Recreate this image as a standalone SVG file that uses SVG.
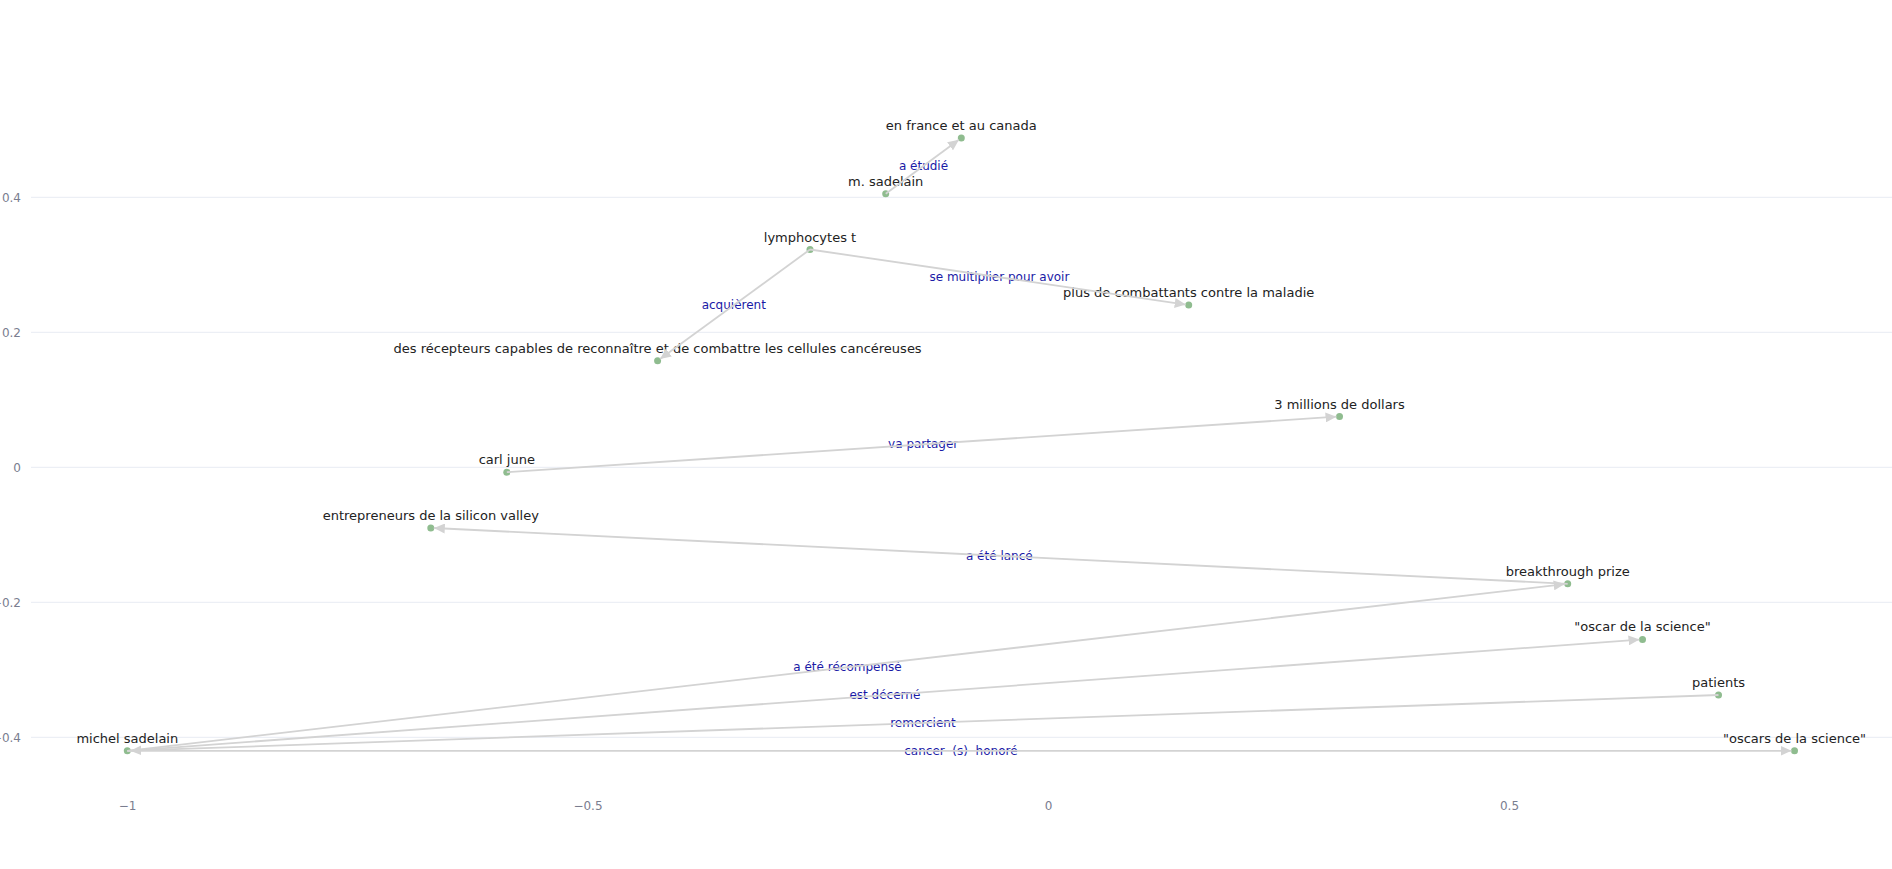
<svg xmlns="http://www.w3.org/2000/svg" width="1892" height="869" viewBox="0 0 1892 869">
<style>
.grid{stroke:#e8ecf3;stroke-width:1}
.tick{font-family:"DejaVu Sans",sans-serif;font-size:12px;fill:#7a7d8f}
.nlab{font-family:"DejaVu Sans",sans-serif;font-size:13px;fill:#222;text-anchor:middle}
.elab{font-family:"DejaVu Sans",sans-serif;font-size:12px;fill:#1a1aa6;text-anchor:middle;dominant-baseline:central;white-space:pre}
.edge{stroke:#d3d3d3;stroke-width:1.8;fill:none;marker-end:url(#arr)}
.edge2{stroke:#d3d3d3;stroke-width:1.8;fill:none}
.dot{fill:#8fbc8f}
</style>
<defs>
<marker id="arr" markerUnits="userSpaceOnUse" markerWidth="11" markerHeight="10" refX="11" refY="5" orient="auto" viewBox="0 0 11 10">
<path d="M0,0 L11,5 L0,10 z" fill="#d3d3d3"/>
</marker>
</defs>
<rect width="1892" height="869" fill="#fff"/>
<g id="axes">
<line class="grid" x1="31" y1="197.3" x2="1892" y2="197.3"/>
<line class="grid" x1="31" y1="332.3" x2="1892" y2="332.3"/>
<line class="grid" x1="31" y1="467.3" x2="1892" y2="467.3"/>
<line class="grid" x1="31" y1="602.3" x2="1892" y2="602.3"/>
<line class="grid" x1="31" y1="737.3" x2="1892" y2="737.3"/>
<text class="tick" x="21" y="201.5" text-anchor="end">0.4</text>
<text class="tick" x="21" y="336.5" text-anchor="end">0.2</text>
<text class="tick" x="21" y="471.5" text-anchor="end">0</text>
<text class="tick" x="21" y="606.5" text-anchor="end">−0.2</text>
<text class="tick" x="21" y="741.5" text-anchor="end">−0.4</text>
<text class="tick" x="127.5" y="810" text-anchor="middle">−1</text>
<text class="tick" x="588" y="810" text-anchor="middle">−0.5</text>
<text class="tick" x="1048.5" y="810" text-anchor="middle">0</text>
<text class="tick" x="1509.5" y="810" text-anchor="middle">0.5</text>
</g>
<g id="nodes">
<g id="n-en-france"><circle class="dot" cx="961.3" cy="138" r="3.5"/><text class="nlab" x="961.3" y="130">en france et au canada</text></g>
<g id="n-m-sadelain"><circle class="dot" cx="885.7" cy="193.7" r="3.5"/><text class="nlab" x="885.7" y="185.7">m. sadelain</text></g>
<g id="n-lymphocytes"><circle class="dot" cx="810" cy="249.5" r="3.5"/><text class="nlab" x="810" y="241.5">lymphocytes t</text></g>
<g id="n-plus"><circle class="dot" cx="1188.7" cy="305" r="3.5"/><text class="nlab" x="1188.7" y="297">plus de combattants contre la maladie</text></g>
<g id="n-recepteurs"><circle class="dot" cx="657.6" cy="360.8" r="3.5"/><text class="nlab" x="657.6" y="352.8">des récepteurs capables de reconnaître et de combattre les cellules cancéreuses</text></g>
<g id="n-3millions"><circle class="dot" cx="1339.5" cy="416.5" r="3.5"/><text class="nlab" x="1339.5" y="408.5">3 millions de dollars</text></g>
<g id="n-carl-june"><circle class="dot" cx="506.8" cy="472.2" r="3.5"/><text class="nlab" x="506.8" y="464.2">carl june</text></g>
<g id="n-entrepreneurs"><circle class="dot" cx="430.8" cy="527.9" r="3.5"/><text class="nlab" x="430.8" y="519.9">entrepreneurs de la silicon valley</text></g>
<g id="n-breakthrough"><circle class="dot" cx="1567.7" cy="583.8" r="3.5"/><text class="nlab" x="1567.7" y="575.8">breakthrough prize</text></g>
<g id="n-oscar"><circle class="dot" cx="1642.5" cy="639.4" r="3.5"/><text class="nlab" x="1642.5" y="631.4">"oscar de la science"</text></g>
<g id="n-patients"><circle class="dot" cx="1718.5" cy="695" r="3.5"/><text class="nlab" x="1718.5" y="687">patients</text></g>
<g id="n-oscars"><circle class="dot" cx="1794.5" cy="750.8" r="3.5"/><text class="nlab" x="1794.5" y="742.8">"oscars de la science"</text></g>
<g id="n-michel"><circle class="dot" cx="127.3" cy="750.8" r="3.5"/><text class="nlab" x="127.3" y="742.8">michel sadelain</text></g>
</g>
<g id="connectors">
<text class="elab" x="923.5" y="165.9">a étudié</text>
<text class="elab" x="999.4" y="277.3">se multiplier pour avoir</text>
<text class="elab" x="733.8" y="305.2">acquièrent</text>
<text class="elab" x="923.2" y="444.3">va partager</text>
<text class="elab" x="999.3" y="555.9">a été lancé</text>
<text class="elab" x="847.5" y="667.3">a été récompensé</text>
<text class="elab" x="884.9" y="695.1">est décerné</text>
<text class="elab" x="922.9" y="722.9">remercient</text>
<text class="elab" x="960.9" y="750.8">cancer  (s)  honoré</text>
<line class="edge" x1="885.7" y1="193.7" x2="958.9" y2="139.8"/>
<line class="edge" x1="810" y1="249.5" x2="1185.7" y2="304.6"/>
<line class="edge" x1="810" y1="249.5" x2="660.0" y2="359.0"/>
<line class="edge" x1="506.8" y1="472.2" x2="1336.5" y2="416.7"/>
<line class="edge" x1="1567.7" y1="583.8" x2="433.8" y2="528.0"/>
<line class="edge" x1="127.3" y1="750.8" x2="1564.7" y2="584.1"/>
<line class="edge" x1="127.3" y1="750.8" x2="1639.5" y2="639.6"/>
<line class="edge" x1="1718.5" y1="695" x2="130.3" y2="750.7"/>
<line class="edge" x1="127.3" y1="750.8" x2="1791.5" y2="750.8"/>
</g>
</svg>
